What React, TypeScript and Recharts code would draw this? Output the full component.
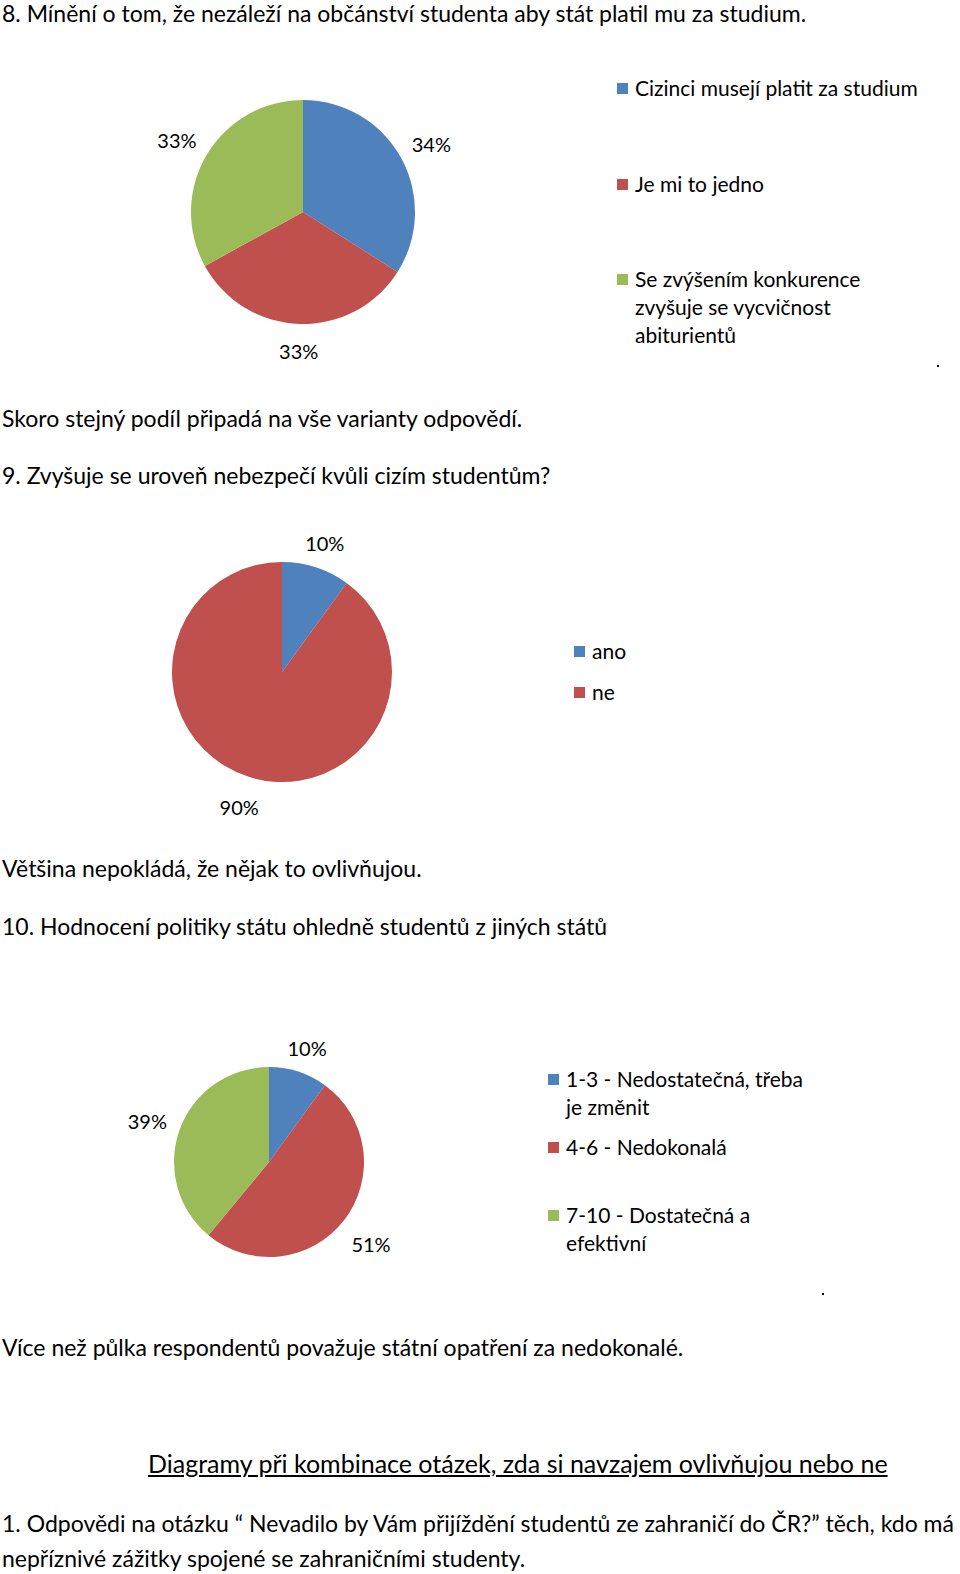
import { PieChart, Pie, Cell } from "recharts";

const COLORS = ["#4F81BD", "#C0504D", "#9BBB59"];

const q8Labels = [
  "Cizinci musejí platit za studium",
  "Je mi to jedno",
  "Se zvýšením konkurence zvyšuje se vycvičnost abiturientů",
];
const q8Values = [34, 33, 33];

const q9Labels = ["ano", "ne"];
const q9Values = [10, 90];

const q10Labels = [
  "1-3 - Nedostatečná, třeba je změnit",
  "4-6 - Nedokonalá",
  "7-10 - Dostatečná a efektivní",
];
const q10Values = [10, 51, 39];

const FONT = "Lato, 'Open Sans', sans-serif";
const RADIAN = Math.PI / 180;

function toRows(labels: string[], values: number[]) {
  return labels.map((name, i) => ({ name, value: values[i] }));
}

// label box sits just outside the slice, like Excel's "best fit"
function renderLabel(props: any) {
  const { cx, cy, midAngle, outerRadius, value } = props;
  const c = Math.cos(-midAngle * RADIAN);
  const s = Math.sin(-midAngle * RADIAN);
  const r = outerRadius + 13 + 19 * Math.abs(c) + 10 * Math.abs(s);
  return (
    <text
      x={cx + r * c}
      y={cy + r * s + 3}
      fill="#000"
      fontSize={20}
      fontFamily={FONT}
      textAnchor="middle"
      dominantBaseline="central"
    >
      {`${value}%`}
    </text>
  );
}

function PieBlock({
  labels,
  values,
  left,
  top,
  radius,
}: {
  labels: string[];
  values: number[];
  left: number;
  top: number;
  radius: number;
}) {
  return (
    <div style={{ position: "absolute", left, top }}>
      <PieChart
        width={400}
        height={400}
        margin={{ top: 0, right: 0, bottom: 0, left: 0 }}
      >
        <Pie
          data={toRows(labels, values)}
          dataKey="value"
          nameKey="name"
          cx={200}
          cy={200}
          outerRadius={radius}
          startAngle={90}
          endAngle={-270}
          stroke="none"
          label={renderLabel}
          labelLine={false}
          isAnimationActive={false}
        >
          {values.map((_, i) => (
            <Cell key={i} fill={COLORS[i]} />
          ))}
        </Pie>
      </PieChart>
    </div>
  );
}

function LegendItem({
  label,
  color,
  left,
  top,
  width,
}: {
  label: string;
  color: string;
  left: number;
  top: number;
  width: number;
}) {
  return (
    <div
      style={{
        position: "absolute",
        left,
        top,
        width: width + 18,
        display: "flex",
        alignItems: "flex-start",
        fontSize: 21,
        lineHeight: "28px",
      }}
    >
      <span
        style={{
          width: 11,
          height: 11,
          background: color,
          marginTop: 9,
          marginRight: 7,
          flex: "0 0 auto",
        }}
      />
      <span style={{ width }}>{label}</span>
    </div>
  );
}

function Line({ top, left = 2, children, style }: any) {
  return (
    <div
      style={{
        position: "absolute",
        left,
        top,
        fontSize: 23,
        lineHeight: "26px",
        whiteSpace: "nowrap",
        ...style,
      }}
    >
      {children}
    </div>
  );
}

export default function App() {
  return (
    <div
      style={{
        position: "absolute",
        left: 0,
        top: 0,
        width: 960,
        height: 1574,
        background: "#fff",
        fontFamily: FONT,
        color: "#000",
        overflow: "hidden",
      }}
    >
      <Line top={0}>
        8. Mínění o tom, že nezáleží na občánství studenta aby stát platil mu za studium.
      </Line>
      <PieBlock labels={q8Labels} values={q8Values} left={103} top={12} radius={112} />
      <LegendItem label={q8Labels[0]} color={COLORS[0]} left={617} top={74} width={310} />
      <LegendItem label={q8Labels[1]} color={COLORS[1]} left={617} top={170} width={300} />
      <LegendItem label={q8Labels[2]} color={COLORS[2]} left={617} top={265} width={238} />
      <div style={{ position: "absolute", left: 937, top: 365, width: 2, height: 2, background: "#000" }} />

      <Line top={405}>Skoro stejný podíl připadá na vše varianty odpovědí.</Line>
      <Line top={462}>9. Zvyšuje se uroveň nebezpečí kvůli cizím studentům?</Line>
      <PieBlock labels={q9Labels} values={q9Values} left={82} top={472} radius={110} />
      <LegendItem label={q9Labels[0]} color={COLORS[0]} left={574} top={637} width={100} />
      <LegendItem label={q9Labels[1]} color={COLORS[1]} left={574} top={678} width={100} />

      <Line top={855}>Většina nepokládá, že nějak to ovlivňujou.</Line>
      <Line top={913}>10. Hodnocení politiky státu ohledně studentů z jiných států</Line>
      <PieBlock labels={q10Labels} values={q10Values} left={69} top={962} radius={95} />
      <LegendItem label={q10Labels[0]} color={COLORS[0]} left={548} top={1065} width={245} />
      <LegendItem label={q10Labels[1]} color={COLORS[1]} left={548} top={1133} width={245} />
      <LegendItem label={q10Labels[2]} color={COLORS[2]} left={548} top={1201} width={245} />
      <div style={{ position: "absolute", left: 822, top: 1293, width: 2, height: 2, background: "#000" }} />

      <Line top={1334}>Více než půlka respondentů považuje státní opatření za nedokonalé.</Line>
      <Line top={1450} left={148} style={{ textDecoration: "underline", fontSize: 25 }}>
        Diagramy při kombinace otázek, zda si navzajem ovlivňujou nebo ne
      </Line>
      <Line top={1510}>
        1. Odpovědi na otázku “ Nevadilo by Vám přijíždění studentů ze zahraničí do ČR?” těch, kdo má
      </Line>
      <Line top={1545}>nepříznivé zážitky spojené se zahraničními studenty.</Line>
    </div>
  );
}
